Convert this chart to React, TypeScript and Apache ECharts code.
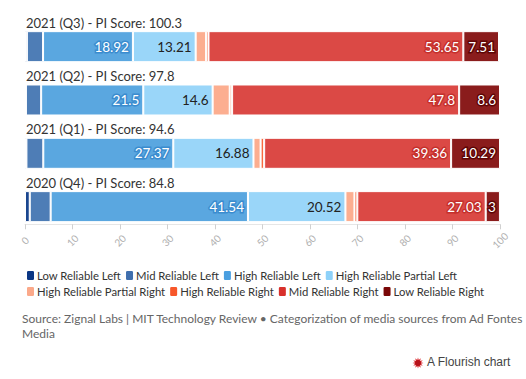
import React, { useEffect, useRef } from "react";
import * as echarts from "echarts";

const categories = [
  "2021 (Q3) - PI Score: 100.3",
  "2021 (Q2) - PI Score: 97.8",
  "2021 (Q1) - PI Score: 94.6",
  "2020 (Q4) - PI Score: 84.8",
];
const seriesNames = [
  "Low Reliable Left",
  "Mid Reliable Left",
  "High Reliable Left",
  "High Reliable Partial Left",
  "High Reliable Partial Right",
  "High Reliable Right",
  "Mid Reliable Right",
  "Low Reliable Right",
];
const lowReliableLeft = [0.4, 0.2, 0.3, 1.0];
const midReliableLeft = [3.4, 3.2, 3.55, 4.4];
const highReliableLeft = [18.92, 21.5, 27.37, 41.54];
const highReliablePartialLeft = [13.21, 14.6, 16.88, 20.52];
const highReliablePartialRight = [2.2, 3.6, 1.5, 1.9];
const highReliableRight = [0.5, 0.5, 0.75, 0.6];
const midReliableRight = [53.65, 47.8, 39.36, 27.03];
const lowReliableRight = [7.51, 8.6, 10.29, 3];
const xTicks = [0, 10, 20, 30, 40, 50, 60, 70, 80, 90, 100];

const allValues = [
  lowReliableLeft,
  midReliableLeft,
  highReliableLeft,
  highReliablePartialLeft,
  highReliablePartialRight,
  highReliableRight,
  midReliableRight,
  lowReliableRight,
];

const legendColors = ["#0b3784", "#3f6fae", "#4a9fe0", "#8dd1f9", "#fba98a", "#f7572a", "#d8302c", "#7a0707"];
const barColors = ["#1a468f", "#4e7db6", "#5aa7e0", "#9ad6f9", "#fcae90", "#f86a3f", "#db4945", "#8a1c1c"];
const labelStyles: any[] = [
  null,
  null,
  { color: "#fff", textBorderColor: "#3a8ccf", textBorderWidth: 3 },
  { color: "#222", textBorderColor: "#9ad6f9", textBorderWidth: 2 },
  null,
  null,
  { color: "#fff", textBorderColor: "#c5302c", textBorderWidth: 3 },
  { color: "#fff", textBorderColor: "#5e0505", textBorderWidth: 3 },
];

const FONT = "Lato, 'Noto Sans', sans-serif";

function starPoints(cx: number, cy: number, r1: number, r2: number, n: number) {
  const pts: number[][] = [];
  for (let i = 0; i < n * 2; i++) {
    const r = i % 2 === 0 ? r1 : r2;
    const a = (Math.PI * i) / n;
    pts.push([cx + r * Math.cos(a), cy + r * Math.sin(a)]);
  }
  return pts;
}

export default function App() {
  const ref = useRef<HTMLDivElement>(null);
  useEffect(() => {
    if (!ref.current) return;
    const chart = echarts.init(ref.current, null, { renderer: "svg" });
    const series = seriesNames.map((name, i) => ({
      name,
      type: "bar",
      stack: "total",
      barWidth: 31,
      data: allValues[i],
      itemStyle: { color: barColors[i], borderColor: "#fff", borderWidth: 1 },
      label: labelStyles[i]
        ? {
            show: true,
            position: "insideRight",
            distance: 4,
            fontFamily: FONT,
            fontSize: 13.5,
            formatter: "{c}",
            ...labelStyles[i],
          }
        : { show: false },
      emphasis: { disabled: true },
    }));
    chart.setOption({
      animation: false,
      textStyle: { fontFamily: FONT },
      grid: { left: 25, right: 26, top: 20, height: 213.3, containLabel: false },
      xAxis: {
        type: "value",
        min: 0,
        max: 100,
        interval: 10,
        offset: -9,
        splitLine: { show: false },
        axisLine: { show: true, lineStyle: { color: "#e6e6e6" } },
        axisTick: { show: true, length: 5, lineStyle: { color: "#d0d0d0" } },
        axisLabel: {
          rotate: 45,
          align: "center",
          verticalAlign: "middle",
          margin: 16,
          color: "#b0b0b0",
          fontSize: 10,
          fontFamily: FONT,
          customValues: xTicks,
        },
      },
      yAxis: {
        type: "category",
        data: categories,
        inverse: true,
        axisLine: { show: false },
        axisTick: { show: false },
        axisLabel: {
          inside: true,
          margin: 1,
          align: "left",
          verticalAlign: "bottom",
          padding: [0, 0, 16, 0],
          lineHeight: 16,
          fontSize: 13,
          color: "#333",
          fontFamily: FONT,
          interval: 0,
        },
      },
      legend: {
        left: 20,
        top: 264,
        width: 495,
        itemWidth: 9,
        itemHeight: 11,
        itemGap: 3,
        icon: "roundRect",
        selectedMode: false,
        textStyle: { fontSize: 11.3, color: "#333", fontFamily: FONT, padding: [0, 0, 0, -3] },
        data: seriesNames.map((n, i) => ({ name: n, itemStyle: { color: legendColors[i] } })),
      },
      graphic: [
        {
          type: "text",
          left: 22,
          top: 311,
          style: {
            text:
              "Source: Zignal Labs | MIT Technology Review \u2022 Categorization of media sources from Ad Fontes\nMedia",
            fontSize: 12,
            lineHeight: 15,
            fill: "#666",
            fontFamily: FONT,
          },
        },
        {
          type: "polygon",
          shape: { points: starPoints(418, 363, 5.5, 3, 12) },
          style: { fill: "#d9252a" },
        },
        {
          type: "circle",
          shape: { cx: 418, cy: 363, r: 3 },
          style: { fill: "#b5121b" },
        },
        {
          type: "text",
          left: 427,
          top: 356,
          style: {
            text: "A Flourish chart",
            fontSize: 12,
            fill: "#444",
            fontFamily: "'Liberation Sans', Arial, sans-serif",
          },
        },
      ],
      series,
    });
    return () => chart.dispose();
  }, []);
  return <div ref={ref} style={{ width: 526, height: 379, position: "absolute", left: 0, top: 0 }} />;
}
